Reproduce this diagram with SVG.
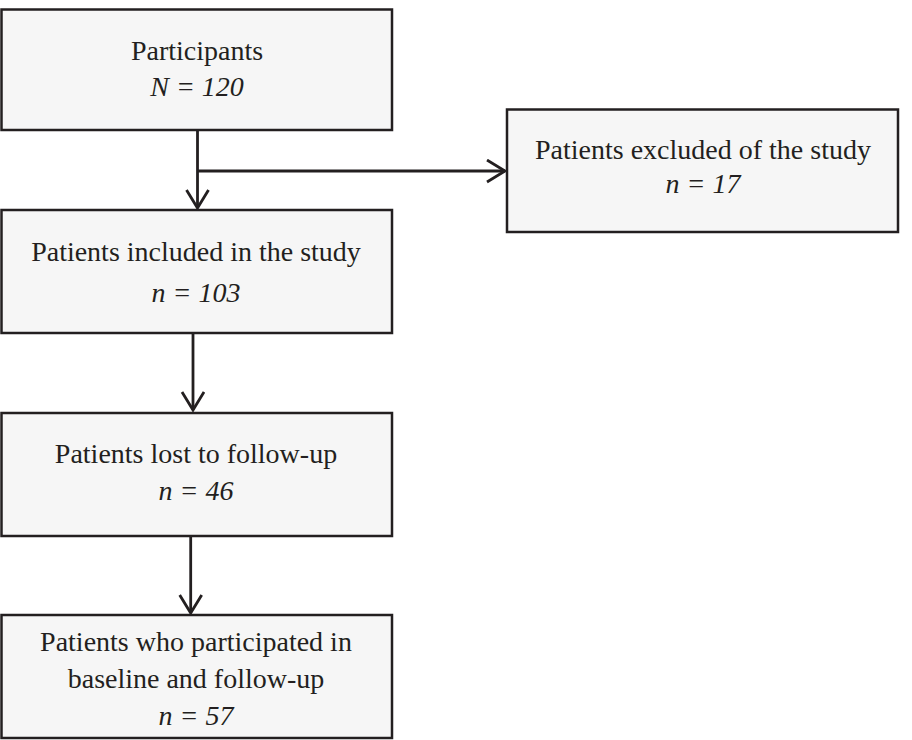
<svg xmlns="http://www.w3.org/2000/svg" width="912" height="740" viewBox="0 0 912 740">
<style>
.box{fill:#f6f6f6;stroke:#231f20;stroke-width:2.5}
.t{font-family:"Liberation Serif","Times New Roman",serif;font-size:28px;fill:#231f20;text-anchor:middle}
.i{font-style:italic}
.ln{fill:none;stroke:#231f20;stroke-width:2.8}
</style>
<defs>
<marker id="ah" markerWidth="22" markerHeight="26" refX="19" refY="12" orient="auto" markerUnits="userSpaceOnUse">
<path d="M1,1 L19,12 L1,23" fill="none" stroke="#231f20" stroke-width="2.8"/>
</marker>
</defs>
<rect width="912" height="740" fill="#ffffff"/>
<g id="connectors">
<path class="ln" d="M197.5,130 V208" marker-end="url(#ah)"/>
<path class="ln" d="M197.5,171 H505" marker-end="url(#ah)"/>
<path class="ln" d="M193,333 V410" marker-end="url(#ah)"/>
<path class="ln" d="M190.7,536 V613" marker-end="url(#ah)"/>
</g>
<g id="participants">
<rect class="box" x="1.5" y="9.5" width="390.5" height="120.5"/>
<text class="t" x="197" y="60">Participants</text>
<text class="t i" x="197" y="96">N = 120</text>
</g>
<g id="excluded">
<rect class="box" x="507" y="109.5" width="391" height="122.5"/>
<text class="t" x="703" y="159">Patients excluded of the study</text>
<text class="t i" x="703" y="193">n = 17</text>
</g>
<g id="included">
<rect class="box" x="1.5" y="210" width="390.5" height="123"/>
<text class="t" x="196" y="261">Patients included in the study</text>
<text class="t i" x="196" y="302">n = 103</text>
</g>
<g id="lost">
<rect class="box" x="1.5" y="413" width="390.5" height="123"/>
<text class="t" x="196" y="463">Patients lost to follow-up</text>
<text class="t i" x="196" y="500">n = 46</text>
</g>
<g id="final">
<rect class="box" x="1.5" y="615" width="390.5" height="123"/>
<text class="t" x="196" y="651">Patients who participated in</text>
<text class="t" x="196" y="688">baseline and follow-up</text>
<text class="t i" x="196" y="725">n = 57</text>
</g>
</svg>
